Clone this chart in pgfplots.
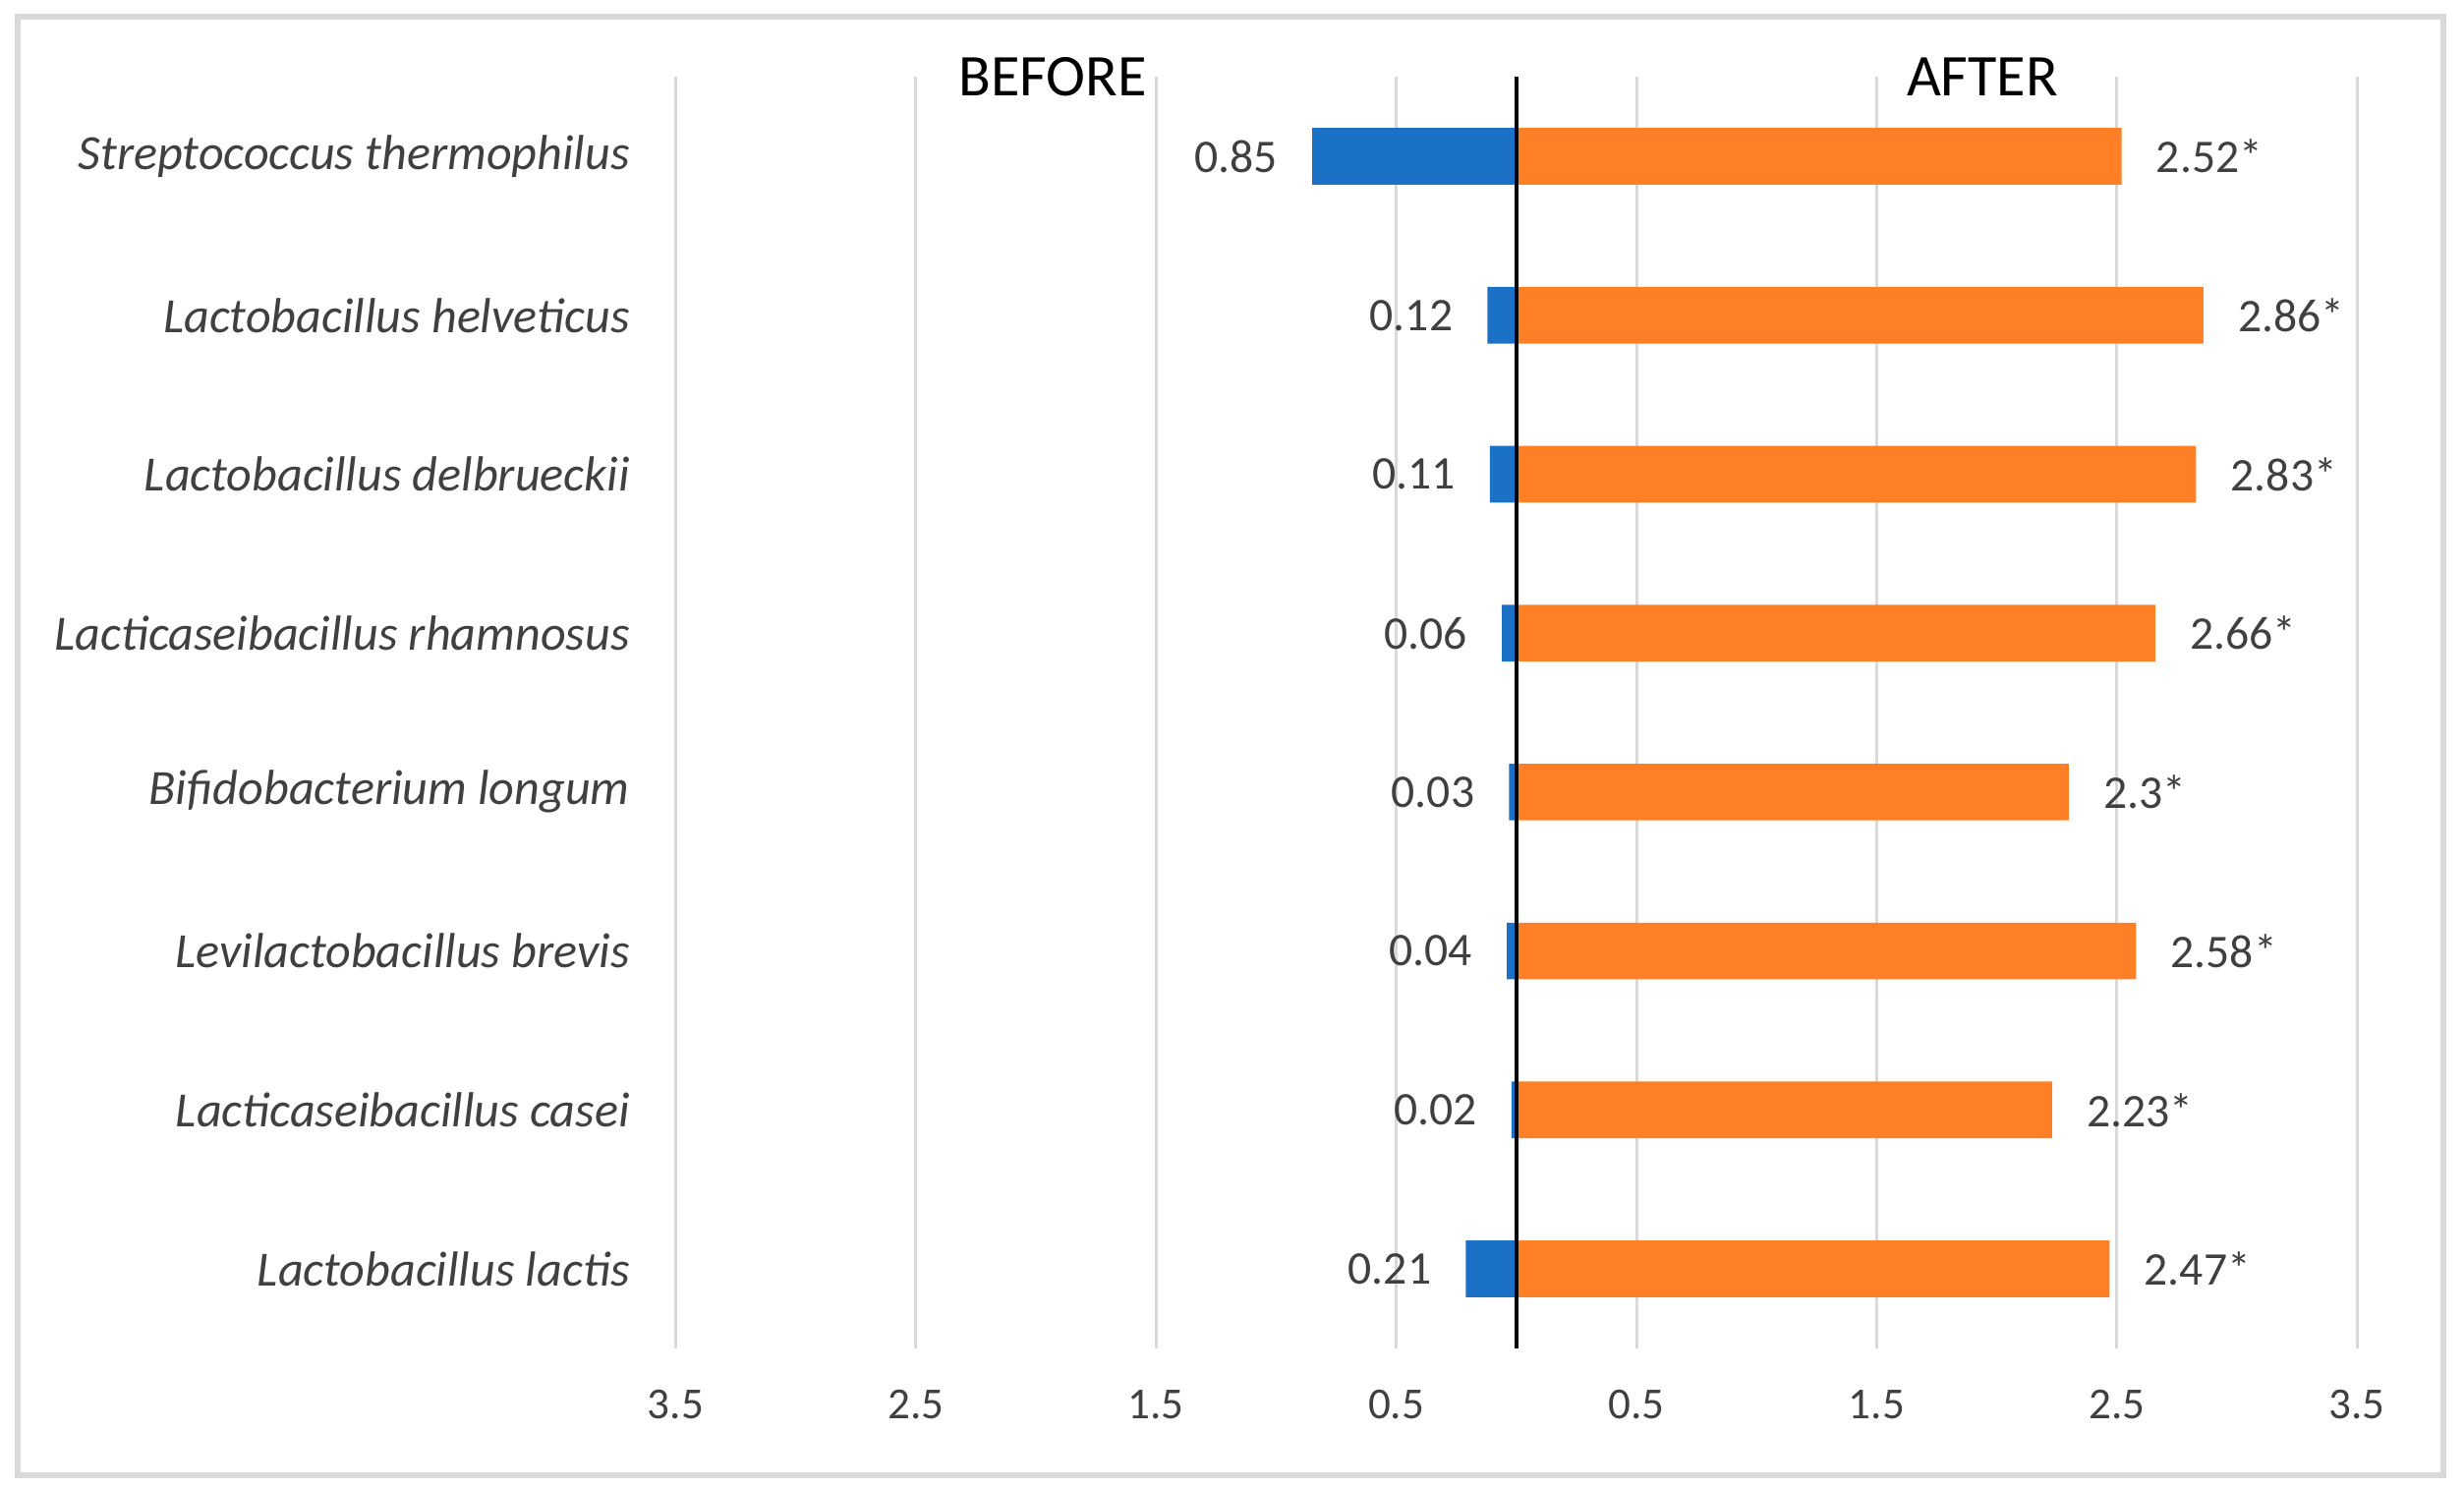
\documentclass[border=0pt]{standalone}
\usepackage{fontspec}
\setmainfont{Carlito}
\usepackage{pgfplots}
\pgfplotsset{compat=1.18}
\usepackage{pgfplotstable}

\definecolor{barblue}{HTML}{1B71C6}
\definecolor{barorange}{HTML}{FF7F27}
\definecolor{txtgray}{HTML}{404040}
\definecolor{gridgray}{HTML}{D9D9D9}

% before values are stored negative so they grow to the left
\pgfplotstableread{
y x lab
0 -0.85 0.85
1 -0.12 0.12
2 -0.11 0.11
3 -0.06 0.06
4 -0.03 0.03
5 -0.04 0.04
6 -0.02 0.02
7 -0.21 0.21
}\before
\pgfplotstableread{
y x lab
0 2.52 2.52*
1 2.86 2.86*
2 2.83 2.83*
3 2.66 2.66*
4 2.30 2.3*
5 2.58 2.58*
6 2.23 2.23*
7 2.47 2.47*
}\after

\begin{document}
\begin{tikzpicture}
\useasboundingbox (-137.1pt,-28.4pt) rectangle (362.9pt,273.6pt);
\draw[gridgray, line width=1.2pt] (-133.6pt,-25.8pt) rectangle (358.8pt,270.2pt);
\begin{axis}[
    scale only axis,
    width=341.2pt, height=258pt,
    clip=false,
    xbar, bar width=11.5pt, bar shift=0pt,
    xmin=-3.5, xmax=3.5,
    ymin=-0.5, ymax=7.5,
    y dir=reverse,
    xtick={-3.5,-2.5,-1.5,-0.5,0.5,1.5,2.5,3.5},
    xticklabels={3.5,2.5,1.5,0.5,0.5,1.5,2.5,3.5},
    ytick={0,...,7},
    yticklabels={Streptococcus thermophilus, Lactobacillus helveticus,
        Lactobacillus delbrueckii, Lacticaseibacillus rhamnosus,
        Bifidobacterium longum, Levilactobacillus brevis,
        Lacticaseibacillus casei, Lactobacillus lactis},
    xmajorgrids,
    grid style={gridgray, line width=0.6pt},
    axis line style={draw=none},
    tick style={draw=none},
    /pgf/number format/assume math mode=true,
    xticklabel style={font=\fontsize{9}{11}\selectfont, text=txtgray, yshift=-5pt},
    yticklabel style={font=\fontsize{10}{12}\selectfont\itshape, text=txtgray, xshift=-1.5pt},
    point meta=explicit symbolic,
    nodes near coords,
    every node near coord/.append style={font=\fontsize{9.5}{11}\selectfont, text=txtgray},
]
\addplot[fill=barblue, draw=none,
    every node near coord/.append style={anchor=east, xshift=-3.5pt}]
    table[x=x, y=y, meta=lab] {\before};
\addplot[fill=barorange, draw=none,
    every node near coord/.append style={anchor=west, xshift=3.5pt}]
    table[x=x, y=y, meta=lab] {\after};
\draw[black, line width=0.8pt] (axis cs:0,-0.5) -- (axis cs:0,7.5);
\node[font=\fontsize{12}{14}\selectfont, anchor=center] at (axis cs:-1.93,-0.5) {BEFORE};
\node[font=\fontsize{12}{14}\selectfont, anchor=center] at (axis cs:1.94,-0.5) {AFTER};
\end{axis}
\end{tikzpicture}
\end{document}
